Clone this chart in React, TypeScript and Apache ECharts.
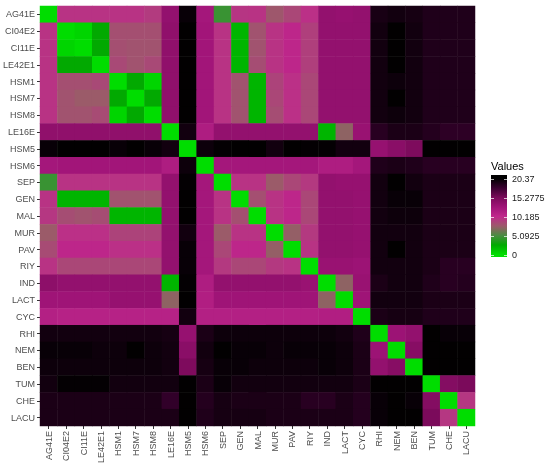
import React, { useEffect, useRef } from 'react';
import * as echarts from 'echarts';

const labels = ['AG41E', 'CI04E2', 'CI11E', 'LE42E1', 'HSM1', 'HSM7', 'HSM8', 'LE16E', 'HSM5', 'HSM6', 'SEP', 'GEN', 'MAL', 'MUR', 'PAV', 'RIY', 'IND', 'LACT', 'CYC', 'RHI', 'NEM', 'BEN', 'TUM', 'CHE', 'LACU'];

const rowAG41E = [0, 9.6, 9.6, 9.6, 9.6, 9.6, 9.2, 13.6, 20.0, 12.4, 4.5, 9.5, 9.6, 7.8, 8.6, 9.8, 13.6, 13.4, 13.6, 19.3, 19.6, 19.4, 19.0, 19.0, 19.0];
const rowCI04E2 = [9.6, 0, 0.4, 2.6, 8.2, 8.2, 8.2, 13.8, 20.3, 12.6, 9.6, 2.0, 8.0, 9.6, 10.4, 9.0, 13.6, 13.6, 13.6, 19.6, 20.3, 19.6, 19.0, 19.0, 19.0];
const rowCI11E = [9.6, 0.4, 0, 2.6, 8.2, 8.0, 8.0, 13.8, 20.3, 12.6, 9.6, 2.0, 8.0, 9.6, 10.4, 9.0, 13.6, 13.6, 13.6, 19.6, 20.3, 19.6, 19.0, 19.0, 19.0];
const rowLE42E1 = [9.6, 2.6, 2.6, 0, 8.5, 8.0, 8.5, 13.8, 20.3, 12.6, 9.6, 2.0, 8.3, 9.6, 10.4, 9.0, 13.6, 13.6, 13.6, 19.6, 20.3, 19.6, 19.0, 19.0, 19.0];
const rowHSM1 = [9.6, 8.2, 8.2, 8.5, 0, 2.6, 0.4, 13.8, 20.3, 12.6, 9.6, 8.0, 2.0, 8.8, 9.8, 8.6, 13.6, 13.6, 13.6, 19.6, 19.8, 19.6, 19.0, 19.0, 19.0];
const rowHSM7 = [9.6, 8.0, 7.6, 7.6, 2.6, 0, 2.6, 13.8, 20.3, 12.6, 9.6, 8.0, 2.0, 8.6, 9.8, 8.6, 13.6, 13.6, 13.6, 19.6, 20.3, 19.6, 19.0, 19.0, 19.0];
const rowHSM8 = [9.6, 8.0, 8.0, 8.4, 0.4, 2.6, 0, 13.8, 20.3, 12.6, 9.6, 8.0, 2.0, 8.3, 9.8, 8.6, 13.6, 13.6, 13.6, 19.6, 19.8, 19.6, 19.0, 19.0, 19.0];
const rowLE16E = [13.8, 13.8, 13.8, 13.8, 13.8, 13.8, 13.8, 0, 19.6, 11.6, 13.6, 13.6, 13.6, 13.6, 13.6, 13.6, 2.0, 7.2, 13.2, 18.6, 19.2, 19.2, 18.8, 18.4, 18.4];
const rowHSM5 = [20.0, 20.3, 20.3, 20.3, 20.0, 20.3, 20.0, 19.6, 0, 19.8, 20.2, 20.3, 20.3, 19.6, 20.3, 20.2, 20.2, 19.6, 19.6, 13.4, 14.2, 15.0, 20.3, 20.3, 20.3];
const rowHSM6 = [12.4, 12.6, 12.6, 12.6, 12.6, 12.6, 12.6, 11.6, 19.8, 0, 12.4, 12.4, 12.4, 12.4, 12.4, 12.4, 11.6, 11.6, 12.4, 19.0, 19.2, 19.0, 18.6, 18.6, 18.6];
const rowSEP = [4.5, 9.6, 9.6, 9.6, 9.6, 9.6, 9.6, 13.6, 20.2, 12.4, 0, 9.6, 9.6, 7.6, 8.6, 9.3, 13.6, 13.4, 13.4, 19.6, 20.3, 19.6, 19.2, 19.2, 19.2];
const rowGEN = [9.6, 2.0, 2.0, 2.0, 8.0, 8.0, 8.0, 13.6, 20.3, 12.4, 9.6, 0, 8.2, 9.6, 10.4, 8.6, 13.6, 13.6, 13.4, 19.6, 20.0, 20.0, 19.2, 19.2, 19.2];
const rowMAL = [9.4, 8.3, 8.0, 8.3, 2.0, 2.0, 2.0, 13.6, 20.3, 12.4, 9.6, 8.2, 0, 9.6, 10.4, 8.6, 13.6, 13.6, 13.4, 19.6, 19.8, 19.8, 19.2, 19.2, 19.2];
const rowMUR = [7.6, 9.8, 9.8, 9.8, 8.8, 8.8, 8.8, 13.6, 19.6, 12.4, 7.6, 9.6, 9.6, 0, 7.4, 9.3, 13.6, 13.6, 13.4, 19.6, 19.6, 19.6, 19.2, 19.2, 19.2];
const rowPAV = [8.4, 10.4, 10.4, 10.4, 9.8, 9.8, 9.8, 13.6, 20.0, 12.4, 8.6, 10.4, 10.4, 7.4, 0, 9.6, 13.6, 13.6, 13.4, 19.6, 20.3, 19.6, 19.2, 19.2, 19.2];
const rowRIY = [9.6, 8.6, 8.6, 8.6, 8.6, 8.6, 8.6, 13.6, 20.0, 12.4, 9.3, 8.6, 8.6, 9.3, 9.6, 0, 13.2, 13.2, 13.0, 19.6, 19.6, 19.6, 19.2, 18.6, 18.6];
const rowIND = [14.0, 13.6, 13.6, 13.6, 13.6, 13.6, 13.6, 2.0, 20.2, 11.6, 13.6, 13.6, 13.6, 13.6, 13.6, 13.2, 0, 7.2, 13.2, 19.2, 19.6, 19.6, 19.0, 18.6, 18.8];
const rowLACT = [12.8, 12.8, 12.8, 12.8, 13.4, 13.4, 13.4, 7.2, 20.3, 11.4, 12.8, 12.8, 12.8, 12.8, 12.8, 12.8, 7.2, 0, 12.8, 19.6, 19.6, 19.6, 19.2, 19.2, 19.2];
const rowCYC = [11.2, 11.0, 11.0, 11.0, 11.0, 11.0, 11.0, 11.0, 19.6, 11.2, 11.2, 11.2, 11.2, 11.2, 11.2, 11.2, 11.4, 11.4, 0, 19.2, 19.4, 19.4, 19.0, 19.0, 19.0];
const rowRHI = [19.6, 19.6, 19.6, 19.6, 19.6, 19.6, 19.6, 19.4, 13.4, 19.2, 19.8, 19.8, 19.8, 19.8, 19.8, 19.8, 19.8, 19.6, 19.0, 0, 13.0, 13.6, 20.3, 20.0, 20.0];
const rowNEM = [20.0, 20.0, 20.0, 19.8, 19.8, 20.3, 19.8, 19.6, 14.2, 19.6, 20.3, 20.0, 20.0, 19.8, 20.0, 20.0, 20.0, 19.8, 19.2, 13.0, 0, 14.4, 20.3, 20.3, 20.3];
const rowBEN = [19.8, 19.8, 19.8, 19.8, 19.8, 19.8, 19.8, 19.6, 15.0, 19.4, 20.0, 20.0, 19.8, 19.8, 19.8, 19.8, 20.0, 19.8, 19.2, 13.6, 14.4, 0, 20.3, 20.3, 20.3];
const rowTUM = [19.6, 20.2, 20.2, 20.2, 19.6, 19.6, 19.6, 19.6, 20.3, 19.2, 20.0, 19.6, 19.6, 19.6, 19.6, 19.6, 19.6, 19.6, 19.2, 20.3, 20.3, 20.3, 0, 14.6, 15.2];
const rowCHE = [19.2, 19.2, 19.2, 19.2, 19.2, 19.2, 19.2, 18.2, 20.3, 18.8, 19.4, 19.2, 19.2, 19.2, 19.2, 18.6, 18.6, 19.2, 18.8, 20.0, 20.3, 20.0, 14.6, 0, 9.4];
const rowLACU = [19.2, 19.2, 19.2, 19.2, 19.2, 19.2, 19.2, 19.2, 20.3, 19.0, 19.4, 19.4, 19.4, 19.2, 19.2, 19.2, 19.2, 19.2, 18.8, 20.0, 20.3, 20.3, 15.2, 9.4, 0];

const rows = [rowAG41E, rowCI04E2, rowCI11E, rowLE42E1, rowHSM1, rowHSM7, rowHSM8, rowLE16E, rowHSM5, rowHSM6, rowSEP, rowGEN, rowMAL, rowMUR, rowPAV, rowRIY, rowIND, rowLACT, rowCYC, rowRHI, rowNEM, rowBEN, rowTUM, rowCHE, rowLACU];

const valueMin = 0;
const valueMax = 20.37;
const legendBreaks = [0, 5.0925, 10.185, 15.2775, 20.37];
const legendBreakLabels = ['0', '5.0925', '10.185', '15.2775', '20.37'];
const palette = ['#00DD00', '#00AA00', '#4A8C42', '#9C5A6A', '#C0288C', '#A01478', '#7A0A5A', '#3A0030', '#000000'];

const FONT = '"Liberation Sans", Arial, Helvetica, sans-serif';

export default function App() {
  const ref = useRef<HTMLDivElement>(null);
  useEffect(() => {
    const chart = echarts.init(ref.current!, null, { renderer: 'svg' });
    const data: number[][] = [];
    rows.forEach((row, r) => row.forEach((v, c) => data.push([c, r, v])));

    // legend geometry
    const barX = 491, barY = 175, barW = 16, barH = 82;
    const y0 = 254.5, y1 = 178.5;
    const yOf = (v: number) => y0 - ((v - valueMin) / (valueMax - valueMin)) * (y0 - y1);
    const stops: { offset: number; color: string }[] = [];
    stops.push({ offset: 0, color: palette[palette.length - 1] });
    for (let i = palette.length - 1; i >= 0; i--) {
      const v = valueMin + (i / (palette.length - 1)) * (valueMax - valueMin);
      stops.push({ offset: (yOf(v) - barY) / barH, color: palette[i] });
    }
    stops.push({ offset: 1, color: palette[0] });

    const legendEls: any[] = [
      {
        type: 'text',
        left: barX,
        top: 160,
        style: { text: 'Values', fontSize: 11, fontFamily: FONT, fill: '#000' },
      },
      {
        type: 'rect',
        shape: { x: barX, y: barY, width: barW, height: barH },
        style: { fill: new echarts.graphic.LinearGradient(0, 0, 0, 1, stops) },
      },
    ];
    legendBreaks.forEach((b, i) => {
      const y = Math.round(yOf(b)) + 0.5;
      legendEls.push({ type: 'line', shape: { x1: barX, y1: y, x2: barX + 3, y2: y }, style: { stroke: 'rgba(255,255,255,0.7)', lineWidth: 1 } });
      legendEls.push({ type: 'line', shape: { x1: barX + barW - 3, y1: y, x2: barX + barW, y2: y }, style: { stroke: 'rgba(255,255,255,0.7)', lineWidth: 1 } });
      legendEls.push({
        type: 'text',
        x: barX + barW + 5,
        y: yOf(b),
        style: { text: legendBreakLabels[i], fontSize: 9, fontFamily: FONT, fill: '#1a1a1a', verticalAlign: 'middle', align: 'left' },
      });
    });

    const axisCommon = {
      type: 'category' as const,
      data: labels,
      axisLine: { show: false },
      axisTick: { show: true, alignWithLabel: true, length: 3, lineStyle: { color: '#333', width: 1 } },
      splitLine: { show: false },
      splitArea: { show: false },
    };

    chart.setOption({
      animation: false,
      grid: { left: 40, top: 6, width: 435, height: 420, containLabel: false },
      xAxis: {
        ...axisCommon,
        position: 'bottom',
        axisLabel: { rotate: 90, interval: 0, margin: 5, fontSize: 9, color: '#4d4d4d', fontFamily: FONT },
      },
      yAxis: {
        ...axisCommon,
        inverse: true,
        axisLabel: { interval: 0, margin: 5, fontSize: 9, color: '#4d4d4d', fontFamily: FONT },
      },
      visualMap: {
        type: 'continuous',
        show: false,
        min: valueMin,
        max: valueMax,
        dimension: 2,
        inRange: { color: palette },
      },
      series: [
        {
          type: 'heatmap',
          data,
          itemStyle: { borderWidth: 0 },
          emphasis: { disabled: true },
        },
      ],
      graphic: legendEls,
    });
    return () => chart.dispose();
  }, []);
  return <div ref={ref} style={{ position: 'fixed', left: 0, top: 0, width: 550, height: 466 }} />;
}
